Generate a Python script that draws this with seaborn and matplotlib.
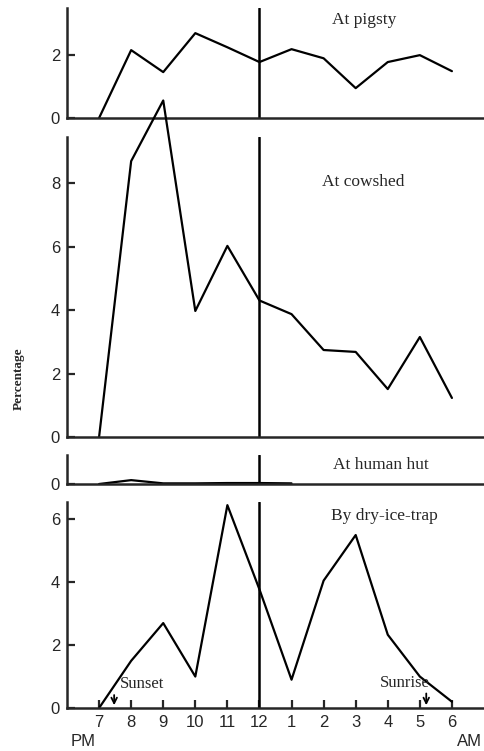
import numpy as np
import pandas as pd
import seaborn as sns
import matplotlib.pyplot as plt

# hours 7 PM .. 6 AM, kept as 7..18 on the axis
hours = [7, 8, 9, 10, 11, 12, 13, 14, 15, 16, 17, 18]
hour_labels = ['7', '8', '9', '10', '11', '12', '1', '2', '3', '4', '5', '6']

pigsty = [0, 2.16, 1.46, 2.7, 2.25, 1.78, 2.19, 1.9, 0.95, 1.78, 2.0, 1.49]
cowshed = [0, 8.69, 10.6, 3.97, 6.02, 4.3, 3.87, 2.74, 2.68, 1.51, 3.15, 1.23]
hut_hours = [7, 8, 9, 10, 11, 12, 13]
hut = [0, 0.12, 0.02, 0.02, 0.03, 0.03, 0.02]
dryice = [0, 1.5, 2.7, 1.0, 6.45, 3.77, 0.9, 4.05, 5.5, 2.33, 1.0, 0.2]

sunset = 7.47
sunrise = 17.2

sns.set_style("ticks")
plt.rcParams['font.family'] = ['Liberation Sans', 'DejaVu Sans']

W, H = 484, 751
fig = plt.figure(figsize=(W / 100, H / 100), dpi=100)

def make_ax(top, bottom):
    ax = fig.add_axes([67 / W, 1 - bottom / H, (W - 67) / W, (bottom - top) / H])
    ax.set_facecolor('none')
    return ax

# axes, x, y, ymax, yticks, title, title x, title y (fraction of ymax)
panels = [
    (make_ax(8, 118), hours, pigsty, 3.5, [0, 2], 'At pigsty', 15.25, 0.89),
    (make_ax(137, 437), hours, cowshed, 9.45, [0, 2, 4, 6, 8], 'At cowshed', 15.25, 0.85),
    (make_ax(455, 484), hut_hours, hut, 0.9, [0], 'At human hut', 15.8, 0.65),
    (make_ax(502, 708), hours, dryice, 6.55, [0, 2, 4, 6], 'By dry-ice-trap', 15.9, 0.93),
]

serif = ['Liberation Serif', 'DejaVu Serif']

for i, (ax, xs, ys, top, yt, title, tx, ty) in enumerate(panels):
    df = pd.DataFrame({'hour': xs, 'pct': ys})
    sns.lineplot(data=df, x='hour', y='pct', ax=ax, color='black', lw=1.6)
    ax.axvline(12, color='black', lw=1.8)
    ax.set_xlim(6, 19)
    ax.set_ylim(0, top)
    ax.set_yticks(yt)
    ax.set_xlabel(None)
    ax.set_ylabel(None)
    for s in ['top', 'right']:
        ax.spines[s].set_visible(False)
    for s in ['left', 'bottom']:
        ax.spines[s].set_linewidth(1.8)
    ax.tick_params(axis='y', direction='in', length=6, width=1.6, labelsize=12, pad=5)
    ax.text(tx, top * ty, title, family=serif, fontsize=12.5, ha='center', va='center')
    if i == 3:
        ax.set_xticks(hours)
        ax.set_xticklabels(hour_labels)
        ax.tick_params(axis='x', direction='in', length=6, width=1.6, labelsize=12, pad=5)
    else:
        ax.set_xticks([])
    if i == 1:
        ax.lines[0].set_clip_on(False)

ax4 = panels[3][0]
ax4.annotate('', xy=(sunset, 0), xytext=(sunset, 0.5),
             arrowprops=dict(arrowstyle='->', color='black', lw=1.3))
ax4.text(7.65, 0.5, 'Sunset', family=serif, fontsize=12, ha='left', va='bottom')
ax4.annotate('', xy=(sunrise, 0), xytext=(sunrise, 0.55),
             arrowprops=dict(arrowstyle='->', color='black', lw=1.3))
ax4.text(17.3, 0.55, 'Sunrise', family=serif, fontsize=12, ha='right', va='bottom')

fig.text(19 / W, 1 - 379 / H, 'Percentage', family=serif, fontsize=9.5,
         fontweight='bold', rotation=90, ha='center', va='center')
fig.text(83 / W, 1 - 741 / H, 'PM', fontsize=12, ha='center', va='center')
fig.text(469 / W, 1 - 741 / H, 'AM', fontsize=12, ha='center', va='center')

fig.savefig('out.png', dpi=100)
